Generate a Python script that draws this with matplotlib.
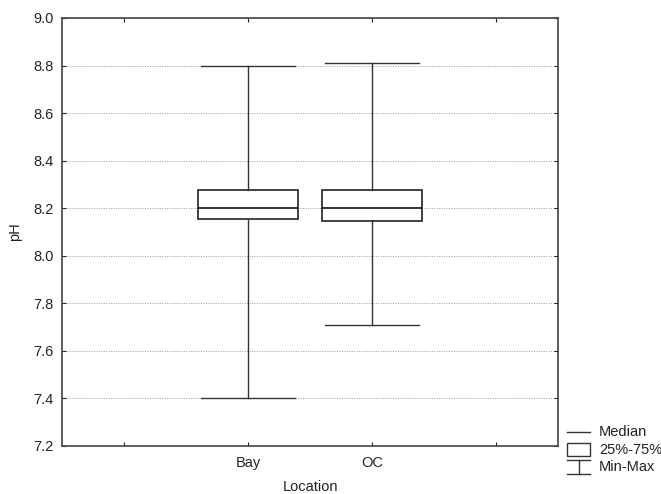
import matplotlib.pyplot as plt
from matplotlib.lines import Line2D
from matplotlib.patches import Rectangle

plt.rcParams['font.family'] = ['Liberation Sans', 'DejaVu Sans']

locations = ['Bay', 'OC']
positions = [2, 3]
ph_min = [7.40, 7.71]
ph_q1 = [8.155, 8.145]
ph_med = [8.20, 8.20]
ph_q3 = [8.277, 8.277]
ph_max = [8.80, 8.81]

stats = []
for i in range(len(locations)):
    stats.append({'label': locations[i], 'whislo': ph_min[i], 'q1': ph_q1[i],
                  'med': ph_med[i], 'q3': ph_q3[i], 'whishi': ph_max[i], 'fliers': []})

fig = plt.figure(figsize=(6.61, 4.94), dpi=100)
ax = fig.add_axes([62/661, 1 - 446/494, (558-62)/661, (446-18)/494])

ax.bxp(stats, positions=positions, widths=0.8, showfliers=False, patch_artist=True,
       boxprops=dict(facecolor='white', edgecolor='#222222', linewidth=1.2),
       medianprops=dict(color='#111111', linewidth=1.2),
       whiskerprops=dict(color='#333333', linewidth=1.0),
       capprops=dict(color='#333333', linewidth=1.0), capwidths=0.76, zorder=3)

ax.set_xlim(0.5, 4.5)
ax.set_ylim(7.2, 9.0)
ax.set_xticks([1, 2, 3, 4])
ax.set_xticklabels(['', 'Bay', 'OC', ''])
ax.set_yticks([7.2, 7.4, 7.6, 7.8, 8.0, 8.2, 8.4, 8.6, 8.8, 9.0])
ax.set_yticklabels(['7.2', '7.4', '7.6', '7.8', '8.0', '8.2', '8.4', '8.6', '8.8', '9.0'])
ax.tick_params(direction='in', length=3, labelsize=10.5, colors='#222222',
               top=True, right=True)
ax.tick_params(axis='y', pad=6)
ax.tick_params(axis='x', pad=7)
ax.yaxis.grid(True, linestyle=(0, (1, 1.5)), color='#999999', linewidth=0.7)
ax.set_axisbelow(True)
for s in ax.spines.values():
    s.set_color('#444444')
    s.set_linewidth(1.2)

# legend drawn outside the axes, bottom right
def fx(x):
    return x / 661
def fy(y):
    return 1 - y / 494

fig.text(fx(310), fy(487), 'Location', fontsize=10.5, ha='center', va='center', color='#222222')
fig.text(fx(15), fy(232), 'pH', fontsize=10.5, ha='center', va='center', rotation=90, color='#222222')

fig.add_artist(Line2D([fx(567), fx(590)], [fy(432), fy(432)], color='#333333', lw=1.0))
fig.add_artist(Rectangle((fx(567), fy(456)), fx(23), 13/494, facecolor='white',
                         edgecolor='#333333', lw=1.0))
fig.add_artist(Line2D([fx(567), fx(590)], [fy(460), fy(460)], color='#333333', lw=1.0))
fig.add_artist(Line2D([fx(567), fx(590)], [fy(474), fy(474)], color='#333333', lw=1.0))
fig.add_artist(Line2D([fx(578.5), fx(578.5)], [fy(460), fy(474)], color='#333333', lw=1.0))
fig.text(fx(599), fy(432), 'Median', fontsize=10.5, va='center', color='#222222')
fig.text(fx(599), fy(450), '25%-75%', fontsize=10.5, va='center', color='#222222')
fig.text(fx(599), fy(467), 'Min-Max', fontsize=10.5, va='center', color='#222222')

fig.savefig('out.png', dpi=100)
